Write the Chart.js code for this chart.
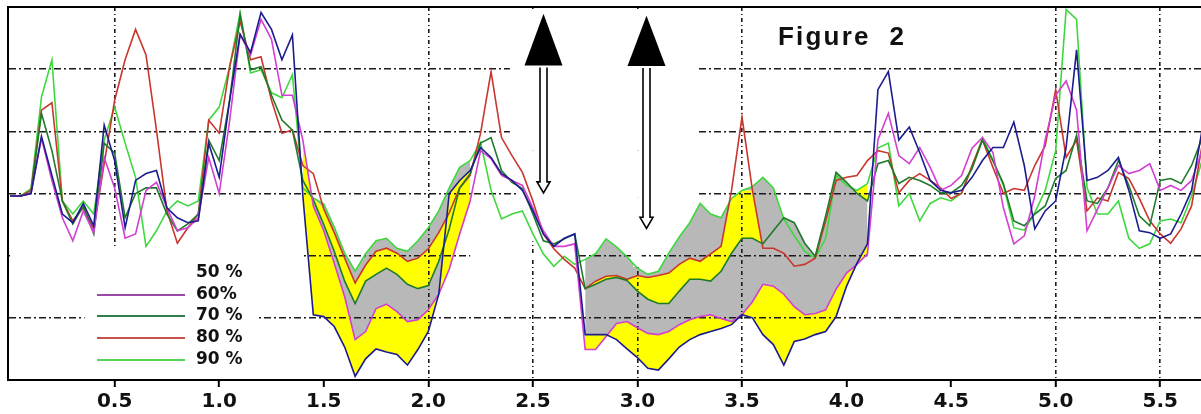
<!DOCTYPE html>
<html>
<head>
<meta charset="utf-8">
<script src="https://cdn.jsdelivr.net/npm/chart.js@4.4.1/dist/chart.umd.min.js"></script>
<style>
html,body{margin:0;padding:0;background:#fff;}
canvas{display:block;}
</style>
</head>
<body>
<canvas id="chart" width="1201" height="414"></canvas>
<script>
// ---------- DATA ----------
const xPositions = [
 0.00,0.05,0.10,0.15,0.20,0.25,0.30,0.35,0.40,0.45,
 0.50,0.55,0.60,0.65,0.70,0.75,0.80,0.85,0.90,0.95,
 1.00,1.05,1.10,1.15,1.20,1.25,1.30,1.35,1.40,1.45,
 1.50,1.55,1.60,1.65,1.70,1.75,1.80,1.85,1.90,1.95,
 2.00,2.05,2.10,2.15,2.20,2.25,2.30,2.35,2.40,2.45,
 2.50,2.55,2.60,2.65,2.70,2.75,2.80,2.85,2.90,2.95,
 3.00,3.05,3.10,3.15,3.20,3.25,3.30,3.35,3.40,3.45,
 3.50,3.55,3.60,3.65,3.70,3.75,3.80,3.85,3.90,3.95,
 4.00,4.05,4.10,4.15,4.20,4.25,4.30,4.35,4.40,4.45,
 4.50,4.55,4.60,4.65,4.70,4.75,4.80,4.85,4.90,4.95,
 5.00,5.05,5.10,5.15,5.20,5.25,5.30,5.35,5.40,5.45,
 5.50,5.55,5.60,5.65,5.70];

const xTickValues = [0.5,1.0,1.5,2.0,2.5,3.0,3.5,4.0,4.5,5.0,5.5];
const xHiddenGrid = [1.0,1.5,4.0,4.5];
const yGridValues = [1,2,3,4,5];
const seriesLabels = ['50 %','60%','70 %','80 %','90 %'];

const series50 = [
 2.96,2.96,3.00,3.92,3.29,2.67,2.53,2.84,2.48,4.10,
 3.53,2.45,3.21,3.32,3.37,2.77,2.61,2.53,2.56,3.81,
 3.26,4.50,5.56,5.27,5.91,5.64,5.15,5.55,2.96,1.05,
 1.02,0.86,0.53,0.06,0.34,0.50,0.45,0.41,0.24,0.49,
 0.78,1.38,3.00,3.21,3.37,3.74,3.58,3.32,3.21,3.05,
 2.72,2.35,2.15,2.28,2.35,0.73,0.73,0.73,0.65,0.50,
 0.36,0.19,0.16,0.34,0.53,0.65,0.73,0.78,0.83,0.89,
 1.05,1.00,0.73,0.57,0.24,0.62,0.66,0.73,0.78,1.02,
 1.51,1.88,2.19,4.67,4.96,3.86,4.07,3.66,3.21,3.05,
 3.01,3.05,3.26,3.53,3.74,3.74,4.15,3.45,2.43,2.72,
 2.88,3.74,5.31,3.21,3.26,3.37,3.58,3.05,2.40,2.37,
 2.28,2.35,2.67,3.05,4.02];

const series60 = [
 2.96,2.96,3.00,3.89,3.21,2.61,2.24,2.72,2.37,3.58,
 3.09,2.28,2.35,3.05,3.18,2.77,2.40,2.45,2.61,3.58,
 3.00,4.17,5.56,5.23,5.80,5.48,4.58,4.58,3.86,2.80,
 2.40,1.88,1.34,0.65,0.78,1.15,1.22,1.10,0.94,0.97,
 1.13,1.38,1.78,2.35,2.88,3.69,3.56,3.29,3.21,3.13,
 2.77,2.40,2.15,2.15,2.19,0.49,0.49,0.70,0.91,0.94,
 0.84,0.75,0.73,0.78,0.89,0.97,1.02,1.05,0.99,0.94,
 1.05,1.26,1.54,1.51,1.38,1.18,1.05,1.07,1.13,1.46,
 1.72,1.86,2.03,3.86,4.29,3.61,3.48,3.74,3.42,3.05,
 3.13,3.29,3.73,3.90,3.66,2.77,2.19,2.32,2.96,3.86,
 4.58,4.81,4.34,2.40,2.75,3.09,3.45,3.32,3.37,3.48,
 3.05,3.13,3.05,3.21,3.69];

const series70 = [
 2.96,2.96,3.01,4.29,3.69,2.88,2.51,2.80,2.35,3.81,
 3.65,2.61,3.00,3.09,3.09,2.67,2.40,2.51,2.67,3.86,
 3.53,4.50,5.88,4.99,5.04,4.58,4.18,4.02,3.21,2.90,
 2.50,2.07,1.59,1.23,1.59,1.70,1.80,1.70,1.54,1.47,
 1.52,1.91,2.43,3.09,3.32,3.81,3.90,3.37,3.18,3.08,
 2.67,2.24,2.19,2.27,2.35,1.47,1.54,1.62,1.65,1.60,
 1.43,1.30,1.23,1.23,1.43,1.62,1.62,1.59,1.75,2.04,
 2.28,2.28,2.19,2.40,2.61,2.53,2.20,1.99,2.64,3.34,
 3.18,3.00,2.88,3.48,3.53,3.16,3.26,3.21,3.13,3.01,
 3.01,3.13,3.40,3.86,3.53,3.16,2.56,2.48,2.67,2.80,
 3.24,3.37,3.94,2.88,2.84,3.09,3.53,3.13,2.64,2.48,
 3.21,3.24,3.16,3.45,3.89];

const series80 = [
 2.96,2.96,3.05,4.34,4.46,2.88,2.56,2.77,2.43,3.48,
 4.50,5.15,5.64,5.23,4.02,2.72,2.20,2.45,2.67,4.18,
 3.97,5.04,5.77,5.15,5.20,4.50,3.97,4.02,3.45,3.32,
 2.75,2.37,1.96,1.56,1.85,2.07,2.12,2.04,1.91,1.96,
 2.11,2.37,2.69,3.09,3.29,3.97,4.96,3.90,3.61,3.34,
 2.88,2.35,2.11,1.94,1.80,1.47,1.59,1.67,1.68,1.62,
 1.68,1.65,1.68,1.72,1.86,1.96,1.91,2.03,2.15,3.05,
 4.23,3.05,2.12,2.12,2.04,1.83,1.86,1.96,2.56,3.21,
 3.26,3.29,3.53,3.69,3.65,3.01,3.21,3.32,3.21,3.09,
 2.92,3.00,3.45,3.86,3.42,3.00,3.08,3.05,3.45,3.77,
 4.67,3.58,3.86,2.72,2.93,2.88,3.34,3.24,2.92,2.56,
 2.35,2.20,2.43,2.80,3.77];

const series90 = [
 2.96,2.96,3.08,4.55,5.15,2.88,2.67,2.88,2.67,3.86,
 4.39,3.81,3.26,2.15,2.40,2.72,2.88,2.80,2.88,4.18,
 4.39,5.04,5.91,4.94,4.99,4.62,4.54,4.91,3.09,2.93,
 2.83,2.46,2.04,1.75,2.03,2.24,2.28,2.12,2.07,2.24,
 2.45,2.72,3.09,3.42,3.53,3.82,3.05,2.59,2.67,2.72,
 2.35,2.03,1.83,1.99,1.86,1.94,2.03,2.27,2.14,1.98,
 1.80,1.70,1.75,2.04,2.30,2.53,2.84,2.67,2.61,2.92,
 3.05,3.11,3.26,3.09,2.59,2.32,2.07,1.96,2.28,3.29,
 3.13,3.05,3.16,3.73,3.81,2.80,3.00,2.56,2.84,2.93,
 2.88,3.01,3.42,3.90,3.53,3.13,2.45,2.41,2.69,3.05,
 3.69,5.96,5.80,3.09,2.67,2.67,2.88,2.28,2.12,2.19,
 2.56,2.59,2.53,2.96,3.53];

// index ranges (into xPositions) where the bands between the curves are shaded
const fillBands = [[28,44],[55,82]];

// the two annotation arrows (x position, head top, head base, lower tip)
const arrowX = [2.548, 3.043];
const arrowHeadTop = [5.89, 5.86];
const arrowHeadBase = [5.06, 5.05];
const arrowTip = [3.01, 2.44];

const titleText = 'Figure  2';

// ---------- STYLE ----------
const lineColors = ['#1c1c8e','#d23fd2','#1f7a2a','#c8372d','#3ed83e'];
const legendColors = [null,'#9b4aa8','#2f7d4f','#c4524a','#55d455'];
const YELLOW = '#ffff00', GRAY = '#b8b8b8';

// ---------- BUILD ----------
const allSeries = [series50, series60, series70, series80, series90];
function toPoints(arr, from, to) {
  const out = [];
  for (let i = from; i <= to; i++) out.push({x: xPositions[i], y: arr[i]});
  return out;
}
const datasets = allSeries.map((s, k) => ({
  label: seriesLabels[k],
  data: toPoints(s, 0, s.length - 1),
  borderColor: lineColors[k],
  borderWidth: 1.6,
  pointRadius: 0,
  tension: 0,
  fill: false
}));
// band boundaries: the 80 % boundary never rises above the 90 % curve
const bandSeries = [series50, series60, series70,
  series80.map((v, i) => Math.min(v, series90[i])), series90];
fillBands.forEach(([a, b]) => {
  const base = datasets.length;
  const fillTarget = [false, base, base + 1, base + 2, base + 3];
  const fillColor = ['rgba(0,0,0,0)', YELLOW, GRAY, YELLOW, GRAY];
  bandSeries.forEach((s, k) => {
    datasets.push({
      label: 'band',
      data: toPoints(s, a, b),
      borderColor: 'rgba(0,0,0,0)',
      borderWidth: 1,
      pointRadius: 0,
      tension: 0,
      fill: fillTarget[k],
      backgroundColor: fillColor[k]
    });
  });
});

const decorPlugin = {
  id: 'decor',
  beforeDatasetsDraw(chart, args, opts) {
    const {ctx, chartArea: a, scales: {x, y}} = chart;
    ctx.save();
    ctx.fillStyle = '#ffffff';
    for (const [x0, x1, y0, y1] of opts.masks) {
      const L = Math.max(x.getPixelForValue(x0), a.left + 2);
      const R = Math.min(x.getPixelForValue(x1), a.right);
      const T = Math.max(y.getPixelForValue(y1), a.top + 2);
      const B = Math.min(y.getPixelForValue(y0), a.bottom - 2);
      ctx.fillRect(L, T, R - L, B - T);
    }
    ctx.strokeStyle = '#000';
    ctx.lineWidth = 2;
    ctx.beginPath();
    ctx.moveTo(a.left - 1, a.top);
    ctx.lineTo(a.right, a.top);
    ctx.stroke();
    ctx.restore();
  },
  afterDatasetsDraw(chart, args, opts) {
    const {ctx, chartArea: a, scales: {x, y}} = chart;
    ctx.save();
    // arrows
    arrowX.forEach((xv, i) => {
      const cx = Math.round(x.getPixelForValue(xv)) + 0.5;
      const top = y.getPixelForValue(arrowHeadTop[i]);
      const base = y.getPixelForValue(arrowHeadBase[i]);
      const tip = y.getPixelForValue(arrowTip[i]);
      ctx.fillStyle = '#000';
      ctx.beginPath();
      ctx.moveTo(cx, top);
      ctx.lineTo(cx + 19, base);
      ctx.lineTo(cx - 19, base);
      ctx.closePath();
      ctx.fill();
      const hw = 3.5, hh = 11, hw2 = 6.5;
      ctx.beginPath();
      ctx.moveTo(cx - hw, base + 2);
      ctx.lineTo(cx - hw, tip - hh);
      ctx.lineTo(cx - hw2, tip - hh);
      ctx.lineTo(cx, tip);
      ctx.lineTo(cx + hw2, tip - hh);
      ctx.lineTo(cx + hw, tip - hh);
      ctx.lineTo(cx + hw, base + 2);
      ctx.fillStyle = '#fff';
      ctx.fill();
      ctx.strokeStyle = '#000';
      ctx.lineWidth = 1.6;
      ctx.stroke();
    });
    // legend
    ctx.font = 'bold 17px "DejaVu Sans"';
    ctx.textBaseline = 'middle';
    const rows = [107, 85, 64, 42, 20];
    seriesLabels.forEach((lab, k) => {
      const yy = a.bottom - rows[k];
      if (legendColors[k]) {
        ctx.strokeStyle = legendColors[k];
        ctx.lineWidth = 2;
        ctx.beginPath();
        ctx.moveTo(a.left + 89, yy);
        ctx.lineTo(a.left + 177, yy);
        ctx.stroke();
      }
      ctx.fillStyle = '#111';
      ctx.fillText(lab, a.left + 188, yy);
    });
    // title
    ctx.font = 'bold 26px "Liberation Sans"';
    ctx.textBaseline = 'alphabetic';
    try { ctx.letterSpacing = '2.2px'; } catch (e) {}
    ctx.fillStyle = '#111';
    ctx.fillText(titleText, a.left + 770, a.top + 38);
    ctx.restore();
  }
};

Chart.defaults.font.family = '"DejaVu Sans", sans-serif';

new Chart(document.getElementById('chart'), {
  type: 'line',
  data: {datasets},
  options: {
    responsive: false,
    animation: false,
    devicePixelRatio: 1,
    layout: {padding: {left: 8, top: 7, right: 0, bottom: -3}},
    plugins: {
      legend: {display: false},
      tooltip: {enabled: false},
      filler: {drawTime: 'beforeDraw'},
      decor: {
        masks: [
          [0.356, 1.185, 0.03, 2.12],
          [2.39, 3.285, 3.69, 5.97],
          [2.424, 3.29, 2.93, 3.69],
          [2.48, 2.52, 2.23, 2.93],
          [2.98, 3.02, 1.82, 2.93],
          [0.0, 1.40, 1.93, 2.04],
          [2.2, 2.72, 1.93, 2.04],
          [4.10, 4.146, 1.93, 2.04]
        ]
      }
    },
    scales: {
      x: {
        type: 'linear',
        min: -0.01,
        max: 5.695,
        afterBuildTicks: s => { s.ticks = xTickValues.map(v => ({value: v})); },
        ticks: {
          callback: v => Number(v).toFixed(1),
          font: {family: '"DejaVu Sans"', size: 20, weight: 'bold', lineHeight: 1.0},
          color: '#111',
          padding: 5,
          maxRotation: 0,
          autoSkip: false
        },
        grid: {
          color: c => (c.tick && xHiddenGrid.includes(c.tick.value)) ? 'rgba(0,0,0,0)' : '#1a1a1a',
          lineWidth: 1.6,
          tickColor: '#000',
          tickLength: 7,
          tickWidth: 2,
          tickBorderDash: []
        },
        border: {display: true, color: '#000', width: 2, dash: [4, 3, 1, 3]}
      },
      y: {
        type: 'linear',
        min: 0,
        max: 6,
        afterBuildTicks: s => { s.ticks = yGridValues.map(v => ({value: v})); },
        ticks: {display: false},
        grid: {color: '#1a1a1a', lineWidth: 1.5, drawTicks: false},
        border: {display: true, color: '#000', width: 2, dash: [7, 3, 2, 3]}
      }
    }
  },
  plugins: [decorPlugin]
});
</script>
</body>
</html>
